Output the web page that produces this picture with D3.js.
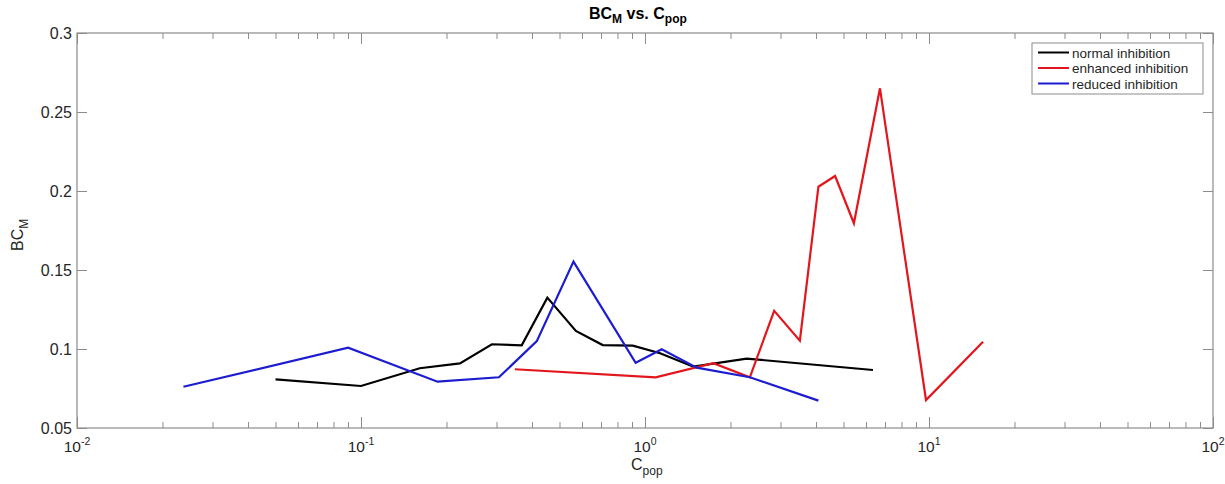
<!DOCTYPE html>
<html><head><meta charset="utf-8">
<script src="https://cdn.jsdelivr.net/npm/d3@7"></script>
<style>
html,body{margin:0;padding:0;background:#fff;}
text{font-family:"Liberation Sans",Arial,Helvetica,sans-serif;}
</style></head>
<body><svg id="chart" width="1225" height="484"></svg>
<script>
// ---- data ----
const seriesNames = ["normal inhibition", "enhanced inhibition", "reduced inhibition"];
const seriesColors = ["#000000", "#e3161e", "#1c1cd0"];

const normalX = [0.05, 0.1, 0.161, 0.223, 0.289, 0.368, 0.453, 0.571, 0.71, 0.906, 1.13, 1.48, 2.28, 6.35];
const normalY = [0.0808, 0.0766, 0.0878, 0.0909, 0.103, 0.1023, 0.1325, 0.1114, 0.1025, 0.1021, 0.0973, 0.0888, 0.0939, 0.0867];

const enhancedX = [0.348, 1.09, 1.74, 2.34, 2.85, 3.51, 4.08, 4.67, 5.44, 6.72, 9.76, 15.5];
const enhancedY = [0.0872, 0.0821, 0.0910, 0.0821, 0.1242, 0.1053, 0.2027, 0.2095, 0.1796, 0.265, 0.0677, 0.1046];

const reducedX = [0.0237, 0.0901, 0.186, 0.306, 0.416, 0.560, 0.927, 1.145, 1.52, 2.34, 4.08];
const reducedY = [0.0761, 0.1008, 0.0793, 0.0821, 0.105, 0.1553, 0.0913, 0.0998, 0.0882, 0.0821, 0.0673];

const xMajorTicks = [0.01, 0.1, 1, 10, 100];
const xTickExponents = ["-2", "-1", "0", "1", "2"];
const yTicks = [0.05, 0.1, 0.15, 0.2, 0.25, 0.3];
const yTickLabels = ["0.05", "0.1", "0.15", "0.2", "0.25", "0.3"];

// ---- layout ----
const L = 77, R = 1213, T = 33, B = 428;
const svg = d3.select("#chart");
const x = d3.scaleLog().domain([0.01, 100]).range([L, R]);
const y = d3.scaleLinear().domain([0.05, 0.3]).range([B, T]);

const axisColor = "#8c8c8c";
const textColor = "#262626";

// minor ticks
const minor = [];
for (let d = -2; d < 2; d++) for (let k = 2; k <= 9; k++) minor.push(k * Math.pow(10, d));

const gBottom = svg.append("g").attr("transform", `translate(0,${B})`)
  .call(d3.axisBottom(x).tickValues(minor).tickSize(-6).tickFormat(""));
const gBottomMaj = svg.append("g").attr("transform", `translate(0,${B})`)
  .call(d3.axisBottom(x).tickValues(xMajorTicks).tickSize(-11).tickFormat(""));
const gTop = svg.append("g").attr("transform", `translate(0,${T})`)
  .call(d3.axisTop(x).tickValues(minor).tickSize(-6).tickFormat(""));
const gTopMaj = svg.append("g").attr("transform", `translate(0,${T})`)
  .call(d3.axisTop(x).tickValues(xMajorTicks).tickSize(-11).tickFormat(""));
const gLeft = svg.append("g").attr("transform", `translate(${L},0)`)
  .call(d3.axisLeft(y).tickValues(yTicks).tickSize(-10).tickFormat(""));
const gRight = svg.append("g").attr("transform", `translate(${R},0)`)
  .call(d3.axisRight(y).tickValues(yTicks).tickSize(-10).tickFormat(""));
[gBottom, gBottomMaj, gTop, gTopMaj, gLeft, gRight].forEach(g => {
  g.selectAll("path.domain").remove();
  g.selectAll("line").attr("stroke", axisColor).attr("stroke-width", 1);
});

// box
svg.append("rect").attr("x", L).attr("y", T).attr("width", R - L).attr("height", B - T)
  .attr("fill", "none").attr("stroke", axisColor).attr("stroke-width", 1.2);

// x tick labels
xMajorTicks.forEach((v, i) => {
  const t = svg.append("text").attr("x", x(v)).attr("y", 452)
    .attr("text-anchor", "middle").attr("fill", textColor).attr("font-size", 15.5);
  t.append("tspan").text("10");
  t.append("tspan").attr("dy", -7).attr("font-size", 10.5).text(xTickExponents[i]);
});

// y tick labels
yTicks.forEach((v, i) => {
  svg.append("text").attr("x", 72).attr("y", y(v) + 6)
    .attr("text-anchor", "end").attr("fill", textColor).attr("font-size", 16)
    .text(yTickLabels[i]);
});

// title
const title = svg.append("text").attr("x", 589).attr("y", 19)
  .attr("fill", "#000").attr("font-size", 16).attr("font-weight", "bold");
title.append("tspan").text("BC");
title.append("tspan").attr("dy", 4).attr("font-size", 12).text("M");
title.append("tspan").attr("dy", -4).text(" vs. C");
title.append("tspan").attr("dy", 4).attr("font-size", 12).text("pop");

// x label
const xl = svg.append("text").attr("x", 631).attr("y", 470)
  .attr("fill", textColor).attr("font-size", 16);
xl.append("tspan").text("C");
xl.append("tspan").attr("dy", 5).attr("font-size", 12).text("pop");

// y label
const yl = svg.append("text").attr("transform", "translate(23,251) rotate(-90)")
  .attr("fill", textColor).attr("font-size", 16);
yl.append("tspan").text("BC");
yl.append("tspan").attr("dy", 5).attr("font-size", 12).text("M");

// lines
const series = [
  {xs: normalX, ys: normalY},
  {xs: enhancedX, ys: enhancedY},
  {xs: reducedX, ys: reducedY}
];
const line = d3.line().x(d => x(d[0])).y(d => y(d[1]));
series.forEach((s, i) => {
  const pts = s.xs.map((v, j) => [v, s.ys[j]]);
  svg.append("path").datum(pts).attr("d", line)
    .attr("fill", "none").attr("stroke", seriesColors[i])
    .attr("stroke-width", 2.2).attr("stroke-linejoin", "miter");
});

// legend
const lg = svg.append("g");
lg.append("rect").attr("x", 1032).attr("y", 43).attr("width", 171).attr("height", 51)
  .attr("fill", "#fff").attr("stroke", axisColor).attr("stroke-width", 1);
seriesNames.forEach((n, i) => {
  const yy = 52.5 + i * 15.5;
  lg.append("line").attr("x1", 1038).attr("x2", 1069).attr("y1", yy).attr("y2", yy)
    .attr("stroke", seriesColors[i]).attr("stroke-width", 2);
  lg.append("text").attr("x", 1072).attr("y", yy + 5).attr("font-size", 13.5)
    .attr("fill", textColor).text(n);
});
</script>
</body></html>
